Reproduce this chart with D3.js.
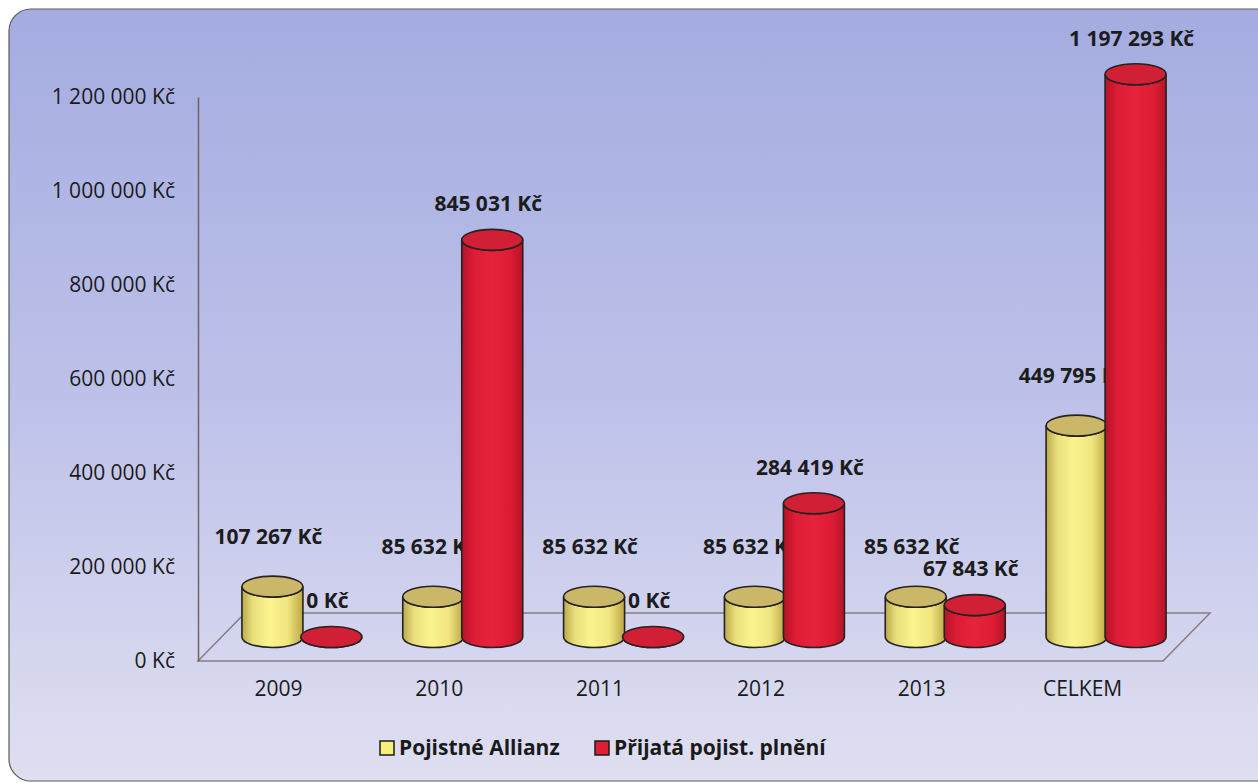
<!DOCTYPE html>
<html>
<head>
<meta charset="utf-8">
<script src="https://cdn.jsdelivr.net/npm/d3@7"></script>
<style>
  body { margin: 0; background: #fff; }
  svg { display: block; font-family: "Open Sans", "Noto Sans", sans-serif; }
</style>
</head>
<body>
<svg width="1258" height="783"></svg>
<script>
// Chart data
var categories = ['2009', '2010', '2011', '2012', '2013', 'CELKEM'];
var seriesNames = ['Pojistné Allianz', 'Přijatá pojist. plnění'];
var pojistne = [107267, 85632, 85632, 85632, 85632, 449795];
var plneni = [0, 845031, 0, 284419, 67843, 1197293];
var yTicks = [0, 200000, 400000, 600000, 800000, 1000000, 1200000];

var svg = d3.select('svg');
var svgWidth = +svg.attr('width');
var svgHeight = +svg.attr('height');

// Czech money format: 1 200 000 Kč
var cz = d3.formatLocale({decimal: ',', thousands: ' ', grouping: [3], currency: ['', ' Kč']});
var fmt = cz.format('$,.0f');

var defs = svg.append('defs');

// Background gradient
var bg = defs.append('linearGradient').attr('id', 'bgGrad')
    .attr('x1', 0).attr('y1', 0).attr('x2', 0).attr('y2', 1);
bg.append('stop').attr('offset', '0%').attr('stop-color', '#a4ace0');
bg.append('stop').attr('offset', '50%').attr('stop-color', '#bdc1e9');
bg.append('stop').attr('offset', '100%').attr('stop-color', '#e0dff1');

// Cylinder side gradients
function sideGradient(id, stops) {
    var g = defs.append('linearGradient').attr('id', id)
        .attr('x1', 0).attr('y1', 0).attr('x2', 1).attr('y2', 0);
    stops.forEach(function(s) {
        g.append('stop').attr('offset', s[0]).attr('stop-color', s[1]);
    });
}
sideGradient('yellowSide', [['0%', '#b9a94a'], ['18%', '#e9de7c'], ['45%', '#fbf48e'], ['75%', '#f1e57e'], ['100%', '#bba745']]);
sideGradient('redSide', [['0%', '#b51327'], ['20%', '#dd1c35'], ['50%', '#e5233c'], ['80%', '#dd1c34'], ['100%', '#b41428']]);

var sideFill = ['url(#yellowSide)', 'url(#redSide)'];
var topFill = ['#cbb768', '#d11f35'];
var swatchFill = ['#f7f07a', '#dc1f35'];

svg.append('rect')
    .attr('x', 9).attr('y', 9)
    .attr('width', svgWidth + 30).attr('height', svgHeight - 11)
    .attr('rx', 22).attr('ry', 22)
    .attr('fill', 'url(#bgGrad)')
    .attr('stroke', '#5a5a5a')
    .attr('stroke-width', 1.2);

// Layout of the 3D plot (front plane)
var plot = {l: 198, r: 1163, t: 97, b: 661};
var depth = {dx: 47, dy: -48};

var xScale = d3.scaleBand()
    .domain(categories)
    .range([plot.l, plot.r]);

var seriesScale = d3.scaleBand()
    .domain(seriesNames)
    .range([-59, 59]);

var yScale = d3.scaleLinear()
    .domain([0, 1200000])
    .range([plot.b, plot.t]);

// Floor
svg.append('path')
    .attr('d', 'M' + [plot.l, plot.b] + 'L' + [plot.r, plot.b] +
        'L' + [plot.r + depth.dx, plot.b + depth.dy] +
        'L' + [plot.l + depth.dx, plot.b + depth.dy] + 'Z')
    .attr('fill', 'none')
    .attr('stroke', '#877d80')
    .attr('stroke-width', 1.5);

// Y axis
var yAxisG = svg.append('g')
    .attr('transform', 'translate(' + plot.l + ',0)')
    .call(d3.axisLeft(yScale).tickValues(yTicks).tickFormat(fmt)
        .tickSize(0).tickPadding(23));
yAxisG.select('.domain').attr('stroke', '#6e6666').attr('stroke-width', 1.5);
yAxisG.selectAll('text')
    .attr('font-size', 21)
    .attr('font-family', '"Open Sans", sans-serif')
    .attr('fill', '#1a1a1a');

// X axis labels
var xAxisG = svg.append('g')
    .attr('transform', 'translate(0,' + plot.b + ')')
    .call(d3.axisBottom(xScale).tickSize(0).tickPadding(20));
xAxisG.select('.domain').remove();
xAxisG.selectAll('text')
    .attr('font-size', 21)
    .attr('font-family', '"Open Sans", sans-serif')
    .attr('fill', '#1a1a1a');

// Build bar records
var bars = [];
categories.forEach(function(c, i) {
    [pojistne[i], plneni[i]].forEach(function(v, s) {
        bars.push({cat: c, series: s, value: v});
    });
});

var rx = 30.5, ry = 10.5;

function cx(d) {
    return xScale(d.cat) + xScale.bandwidth() / 2 + seriesScale(seriesNames[d.series]) + seriesScale.bandwidth() / 2 + depth.dx / 2;
}
function yBase() { return yScale(0) + depth.dy / 2; }
function yTop(d) { return yScale(d.value) + depth.dy / 2; }

var barG = svg.append('g').selectAll('g.bar')
    .data(bars)
    .enter()
    .append('g')
    .attr('class', 'bar');

// Cylinder body
barG.append('path')
    .attr('d', function(d) {
        var x = cx(d), yb = yBase(), yt = yTop(d);
        return 'M' + [x - rx, yt] + 'L' + [x - rx, yb] +
            'A' + [rx, ry] + ' 0 0 0 ' + [x + rx, yb] +
            'L' + [x + rx, yt] +
            'A' + [rx, ry] + ' 0 0 1 ' + [x - rx, yt] + 'Z';
    })
    .attr('fill', function(d) { return sideFill[d.series]; })
    .attr('stroke', '#262222')
    .attr('stroke-width', 1.6);

// Cylinder top
barG.append('ellipse')
    .attr('cx', cx)
    .attr('cy', yTop)
    .attr('rx', rx)
    .attr('ry', ry)
    .attr('fill', function(d) { return topFill[d.series]; })
    .attr('stroke', '#262222')
    .attr('stroke-width', 1.6);

// Value labels
barG.append('text')
    .attr('x', function(d) { return cx(d) - 4; })
    .attr('y', function(d) { return yTop(d) - (d.series === 0 ? 50 : 36); })
    .attr('dy', '0.35em')
    .attr('text-anchor', 'middle')
    .attr('font-size', 21)
    .attr('font-weight', 700)
    .attr('fill', '#1c1c1c')
    .text(function(d) { return fmt(d.value); });

// Legend
var legendX = [380, 595];
var legend = svg.append('g').selectAll('g.legend')
    .data(seriesNames)
    .enter()
    .append('g')
    .attr('class', 'legend')
    .attr('transform', function(d, i) { return 'translate(' + [legendX[i], 741] + ')'; });

legend.append('rect')
    .attr('width', 14).attr('height', 14)
    .attr('fill', function(d, i) { return swatchFill[i]; })
    .attr('stroke', '#1a1a1a')
    .attr('stroke-width', 1.5);

legend.append('text')
    .attr('x', 19)
    .attr('y', 7)
    .attr('dy', '0.35em')
    .attr('font-size', 21)
    .attr('font-weight', 700)
    .attr('fill', '#1a1a1a')
    .text(function(d) { return d; });
</script>
</body>
</html>
